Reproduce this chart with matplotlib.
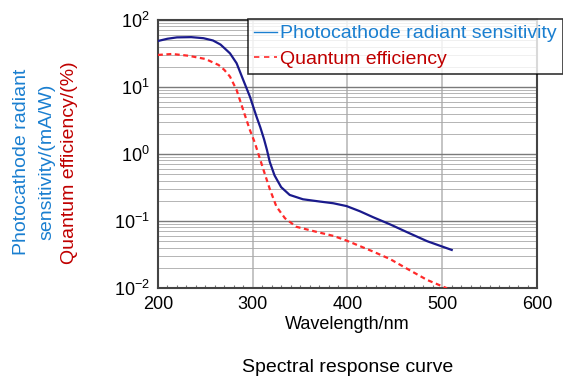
import matplotlib
matplotlib.use("Agg")
import matplotlib.pyplot as plt
from matplotlib.lines import Line2D
from matplotlib.ticker import LogLocator, MultipleLocator

plt.rcParams["font.family"] = ["Liberation Sans", "DejaVu Sans"]
plt.rcParams["mathtext.fontset"] = "custom"
plt.rcParams["mathtext.rm"] = "Liberation Sans"
plt.rcParams["mathtext.it"] = "Liberation Sans:italic"

# Photocathode radiant sensitivity (mA/W)
wl_sens = [200, 210, 220, 235, 248, 258, 266, 271, 276, 283, 290, 297, 304,
           308, 312, 315, 318, 323, 330, 339, 353, 371, 385, 399, 413, 427,
           445, 462, 484, 510]
sens = [48.6, 52.5, 55.0, 55.5, 53.5, 49.5, 43.0, 37.0, 31.8, 22.6, 12.7, 7.2,
        3.6, 2.5, 1.65, 1.15, 0.76, 0.48, 0.32, 0.245, 0.211, 0.195, 0.184,
        0.167, 0.14, 0.114, 0.089, 0.069, 0.05, 0.037]

# Quantum efficiency (%)
wl_qe = [200, 215, 232, 250, 264, 270, 276, 283, 290, 297, 302, 306, 311,
         318, 325, 334, 346, 367, 385, 399, 427, 445, 462, 484, 505]
qe = [30.1, 31.1, 29.3, 26.2, 21.3, 18.0, 14.3, 9.0, 4.5, 2.28, 1.5, 1.0,
      0.6, 0.3, 0.164, 0.11, 0.082, 0.069, 0.06, 0.051, 0.035, 0.027, 0.0197,
      0.0132, 0.0099]

BLUE_TXT = "#1a7fd0"
RED_TXT = "#c00000"

fig = plt.figure(figsize=(5.63, 3.78), dpi=100)
ax = fig.add_axes([0.2806, 0.2381, 0.6732, 0.709])

ax.plot(wl_sens, sens, color="#1a1a8c", lw=1.6, zorder=3)
ax.plot(wl_qe, qe, color="#ff2a2a", lw=1.6, ls=(0, (2.2, 1.6)), zorder=3)

ax.set_xlim(200, 600)
ax.set_yscale("log")
ax.set_ylim(1e-2, 1e2)
ax.xaxis.set_major_locator(MultipleLocator(100))
ax.xaxis.set_minor_locator(MultipleLocator(10))
ax.yaxis.set_major_locator(LogLocator(base=10, numticks=10))
ax.yaxis.set_minor_locator(LogLocator(base=10, subs=range(2, 10), numticks=50))

ax.grid(True, which="major", axis="x", color="#c4c4c4", lw=1.4)
ax.grid(True, which="major", axis="y", color="#7a7a7a", lw=1.0)
ax.grid(True, which="minor", axis="y", color="#a8a8a8", lw=0.6)

ax.tick_params(axis="x", which="major", direction="in", length=0, pad=6,
               labelsize=13)
ax.tick_params(axis="x", which="minor", direction="in", length=2.5,
               color="#777777", width=0.8)
ax.tick_params(axis="y", which="both", direction="in", length=0, pad=6,
               labelsize=13)

for sp in ax.spines.values():
    sp.set_color("#444444")
    sp.set_linewidth(1.5)

ax.set_xlabel("Wavelength/nm", fontsize=13, labelpad=2)

handles = [
    Line2D([], [], color=BLUE_TXT, lw=1.0),
    Line2D([], [], color="#ff2a2a", lw=1.2, ls=(0, (3.2, 2.8))),
]
leg = fig.legend(handles, ["Photocathode radiant sensitivity", "Quantum efficiency"],
                 loc="upper left", bbox_to_anchor=(248 / 563, 1 - 19 / 378),
                 fontsize=14, frameon=True, fancybox=False, borderaxespad=0,
                 handlelength=1.2, handletextpad=0.15, borderpad=0.3,
                 labelspacing=0.4, labelcolor=[BLUE_TXT, RED_TXT])
leg.get_frame().set_edgecolor("black")
leg.get_frame().set_linewidth(1.2)

fig.text(22 / 563, 1 - 162 / 378, "Photocathode radiant", rotation=90,
         ha="center", va="center", fontsize=14, color=BLUE_TXT)
fig.text(47 / 563, 1 - 162 / 378, "sensitivity/(mA/W)", rotation=90,
         ha="center", va="center", fontsize=14, color=BLUE_TXT)
fig.text(70 / 563, 1 - 163 / 378, "Quantum efficiency/(%)", rotation=90,
         ha="center", va="center", fontsize=14, color=RED_TXT)

fig.text(348 / 563, 1 - 368 / 378, "Spectral response curve",
         ha="center", va="center", fontsize=14)

fig.savefig("out.png", dpi=100)
